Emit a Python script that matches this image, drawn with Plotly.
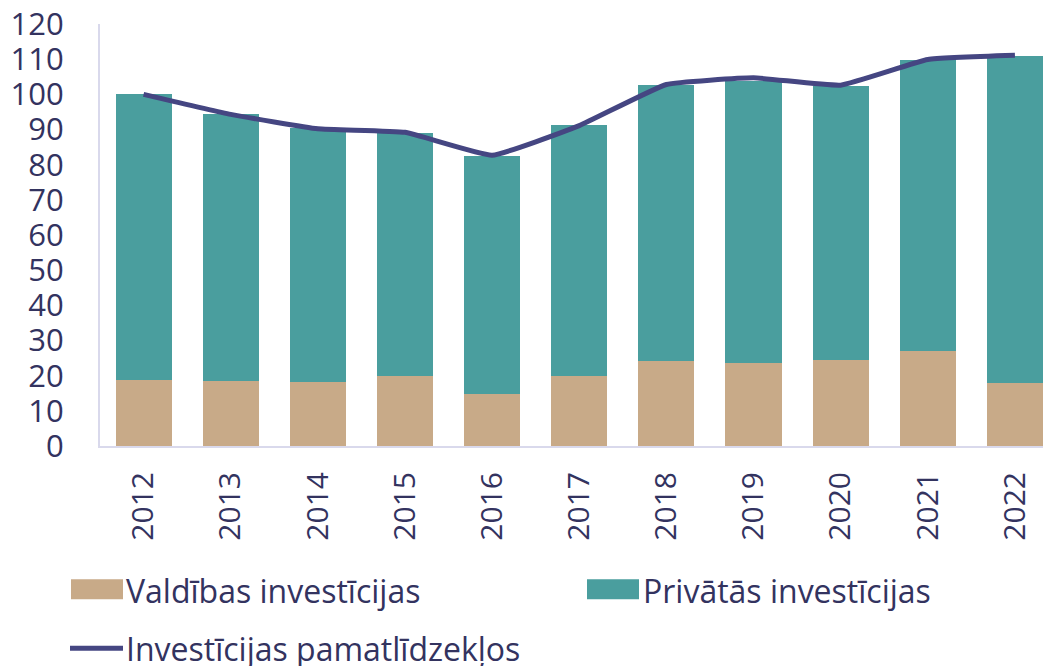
import plotly.graph_objects as go

years = ["2012", "2013", "2014", "2015", "2016", "2017", "2018", "2019", "2020", "2021", "2022"]
total_bar = [100.0, 94.5, 90.3, 89.1, 82.6, 91.3, 102.6, 103.9, 102.4, 109.8, 111.0]
gov = [18.8, 18.4, 18.2, 19.8, 14.9, 20.0, 24.2, 23.7, 24.4, 26.9, 17.8]
private = [round(t - g, 1) for t, g in zip(total_bar, gov)]
fixed_inv = [100.0, 94.3, 90.2, 89.2, 82.7, 91.1, 102.8, 104.7, 102.6, 109.9, 111.1]

y_ticks = list(range(0, 121, 10))

names = ["Valdības investīcijas", "Privātās investīcijas", "Investīcijas pamatlīdzekļos"]
colors = ["#C8AA88", "#4A9E9E", "#454682"]

TXT = "#33335F"
FONT = "Open Sans"

# the page body adds an 8px offset; build the figure in screen coordinates minus 8
OFF = 8
W, H = 1051 - OFF, 666 - OFF
ML, MR, MT = 100 - OFF, 0, 24 - OFF
MB = H - (446.5 - OFF)
PW, PH = W - ML - MR, H - MT - MB


def px(x):
    return (x - OFF - ML) / PW


def py(y):
    return (H - MB - (y - OFF)) / PH


fig = go.Figure()
fig.add_trace(go.Bar(x=years, y=gov, name=names[0],
                     marker=dict(color=colors[0], line=dict(width=0))))
fig.add_trace(go.Bar(x=years, y=private, name=names[1],
                     marker=dict(color=colors[1], line=dict(width=0))))
fig.add_trace(go.Scatter(x=years, y=fixed_inv, name=names[2],
                         mode="lines", line=dict(color=colors[2], width=5, shape="spline", smoothing=0.35)))

# manual legend (layout)
shapes = [
    dict(type="rect", xref="paper", yref="paper", x0=px(71), x1=px(123), y0=py(600), y1=py(580),
         fillcolor=colors[0], line=dict(width=0)),
    dict(type="rect", xref="paper", yref="paper", x0=px(587), x1=px(639), y0=py(600), y1=py(580),
         fillcolor=colors[1], line=dict(width=0)),
    dict(type="line", xref="paper", yref="paper", x0=px(70), x1=px(123), y0=py(649), y1=py(649),
         line=dict(color=colors[2], width=5)),
]
annotations = [
    dict(text=names[0], xref="paper", yref="paper", x=px(124), y=py(591), xanchor="left", yanchor="middle",
         showarrow=False, font=dict(family=FONT, size=32, color=TXT)),
    dict(text=names[1], xref="paper", yref="paper", x=px(641), y=py(591), xanchor="left", yanchor="middle",
         showarrow=False, font=dict(family=FONT, size=32, color=TXT)),
    dict(text=names[2], xref="paper", yref="paper", x=px(124), y=py(649), xanchor="left", yanchor="middle",
         showarrow=False, font=dict(family=FONT, size=32, color=TXT)),
]

fig.update_layout(
    width=W, height=H,
    barmode="stack", bargap=0.356,
    plot_bgcolor="white", paper_bgcolor="white",
    margin=dict(l=ML, r=MR, t=MT, b=MB, pad=0),
    font=dict(family=FONT, size=30, color=TXT),
    showlegend=False,
    shapes=shapes,
    annotations=annotations,
)
fig.update_xaxes(type="category", range=[-0.5, 10.414], showline=True, linecolor="#D9D9EC", linewidth=2,
                 tickangle=-90, ticks="outside", ticklen=12, tickcolor="rgba(0,0,0,0)",
                 tickfont=dict(family=FONT, size=30, color=TXT), showgrid=False, automargin=False)
fig.update_yaxes(range=[0, 120], tickvals=y_ticks, showline=True, linecolor="#D9D9EC", linewidth=2,
                 ticks="outside", ticklen=28, tickcolor="rgba(0,0,0,0)", ticklabeloverflow="allow",
                 tickfont=dict(family=FONT, size=31, color=TXT), showgrid=False, zeroline=False,
                 automargin=False)

fig.write_html("out.html")
